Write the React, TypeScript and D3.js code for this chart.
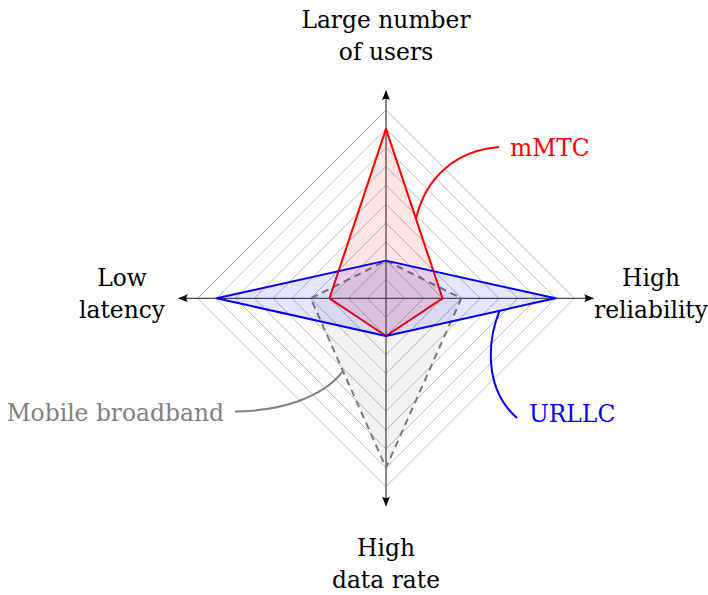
import React from 'react';
import * as d3 from 'd3';

// axes, clockwise from the top
const axisLabels = [
  ['Large number', 'of users'],
  ['High', 'reliability'],
  ['High', 'data rate'],
  ['Low', 'latency'],
];

// values on each axis (0..10)
const broadbandValues = [2, 4, 9, 4];
const mmtcValues = [9, 3, 2, 3];
const urllcValues = [2, 9, 2, 9];

const seriesNames = ['Mobile broadband', 'mMTC', 'URLLC'];
const gridLevels = [1, 2, 3, 4, 5, 6, 7, 8, 9, 10];

const width = 708;
const height = 595;
const cx = 386;
const cy = 298.3;
const font = '"DejaVu Serif", serif';
const fontSize = 23.4;
const lineHeight = 32;

function App() {
  const r = d3.scaleLinear().domain([0, 10]).range([0, 188.3]);
  const angle = (i: number) => (i * Math.PI) / 2;
  const point = (i: number, v: number): [number, number] => [
    cx + Math.sin(angle(i)) * r(v),
    cy - Math.cos(angle(i)) * r(v),
  ];
  const line = d3.line().curve(d3.curveLinearClosed);
  const polygon = (vals: number[]) => line(vals.map((v, i) => point(i, v))) as string;

  const series = [
    { name: seriesNames[0], values: broadbandValues, color: '#7a7a7a', fill: '#808080', dash: '7,5' },
    { name: seriesNames[1], values: mmtcValues, color: '#ff0000', fill: '#ff0000', dash: null },
    { name: seriesNames[2], values: urllcValues, color: '#0000ff', fill: '#0000ff', dash: null },
  ];

  // a point on the edge between axis a and axis a+1 of a series
  const onEdge = (vals: number[], a: number, t: number): [number, number] => {
    const p = point(a, vals[a]);
    const q = point((a + 1) % 4, vals[(a + 1) % 4]);
    return [p[0] + (q[0] - p[0]) * t, p[1] + (q[1] - p[1]) * t];
  };

  const connector = (s: [number, number], c1: [number, number], c2: [number, number], e: [number, number]) => {
    const p = d3.path();
    p.moveTo(s[0], s[1]);
    p.bezierCurveTo(c1[0], c1[1], c2[0], c2[1], e[0], e[1]);
    return p.toString();
  };

  const mS = onEdge(mmtcValues, 0, 0.53);
  const uS = onEdge(urllcValues, 1, 0.33);
  const bS = onEdge(broadbandValues, 2, 0.57);

  const labelPos = [
    { x: cx, y: cy - 270 },
    { x: cx + 265, y: cy - 12 },
    { x: cx, y: cy + 258 },
    { x: cx - 264, y: cy - 12 },
  ];

  return (
    <svg width={width} height={height} style={{ position: 'absolute', left: 0, top: 0, background: '#fff' }}>
      <defs>
        <marker id="arrow" viewBox="0 0 10 10" refX="9" refY="5" markerWidth="10" markerHeight="10" markerUnits="userSpaceOnUse" orient="auto">
          <path d="M0,1 Q3,5 0,9 L10,5 Z" fill="#000" />
        </marker>
      </defs>

      {gridLevels.map((lv) => (
        <path key={lv} d={polygon([lv, lv, lv, lv])} fill="none" stroke="#bababa" strokeWidth={1} />
      ))}

      {axisLabels.map((_, i) => {
        const e = point(i, 11);
        return (
          <line key={i} x1={cx} y1={cy} x2={e[0]} y2={e[1]} stroke="#4a4a4a" strokeWidth={1.3} markerEnd="url(#arrow)" />
        );
      })}

      {series.map((s) => (
        <path
          key={s.name}
          d={polygon(s.values)}
          fill={s.fill}
          fillOpacity={0.1}
          stroke={s.color}
          strokeWidth={2}
          strokeDasharray={s.dash || undefined}
          strokeLinejoin="round"
        />
      ))}

      {/* connectors */}
      <path d={connector(mS, [mS[0] + 10, mS[1] - 42], [mS[0] + 40, mS[1] - 68], [499, 147])} fill="none" stroke="#ff0000" strokeWidth={2} />
      <path d={connector(uS, [uS[0] - 12, uS[1] + 30], [uS[0] - 16, uS[1] + 78], [517, 418])} fill="none" stroke="#0000ff" strokeWidth={2} />
      <path d={connector(bS, [bS[0] - 20, bS[1] + 26], [bS[0] - 62, bS[1] + 40], [235, 411.5])} fill="none" stroke="#808080" strokeWidth={2} />

      <text x={510} y={156} fill="#ff0000" fontFamily={font} fontSize={fontSize}>{seriesNames[1]}</text>
      <text x={529} y={422} fill="#0000ff" fontFamily={font} fontSize={fontSize}>{seriesNames[2]}</text>
      <text x={224} y={421} fill="#808080" fontFamily={font} fontSize={fontSize} textAnchor="end">{seriesNames[0]}</text>

      {axisLabels.map((lines, i) => (
        <text key={i} fontFamily={font} fontSize={fontSize} textAnchor="middle" fill="#000">
          {lines.map((t, j) => (
            <tspan key={j} x={labelPos[i].x} y={labelPos[i].y + j * lineHeight}>{t}</tspan>
          ))}
        </text>
      ))}
    </svg>
  );
}

export default App;
